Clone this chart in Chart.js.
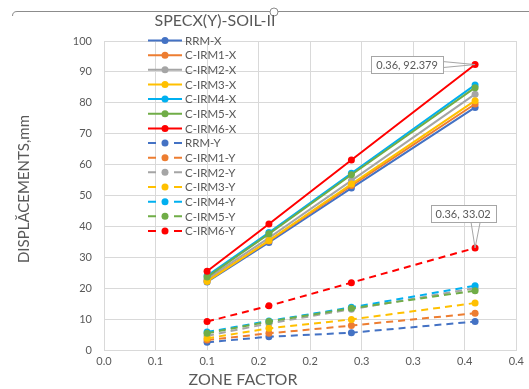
<!DOCTYPE html>
<html>
<head>
<meta charset="utf-8">
<script src="https://cdn.jsdelivr.net/npm/chart.js@4"></script>
<style>
  html, body { margin: 0; padding: 0; background: #fff; }
  #wrap { width: 529px; height: 389px; }
</style>
</head>
<body>
<div id="wrap"><canvas id="specChart" width="529" height="389"></canvas></div>
<script>
// zone factors (x) and displacements (mm) per model
const zoneFactors = [0.10, 0.16, 0.24, 0.36];

const rrmX   = [22.0, 34.8, 52.4, 78.5];
const irm1X  = [22.5, 35.3, 53.2, 79.6];
const irm2X  = [23.0, 36.3, 54.8, 82.8];
const irm3X  = [22.2, 35.4, 53.7, 80.7];
const irm4X  = [24.0, 38.0, 57.2, 85.8];
const irm5X  = [23.6, 37.6, 56.7, 84.9];
const irm6X  = [25.5, 40.8, 61.5, 92.379];

const rrmY   = [2.5, 4.3, 5.6, 9.2];
const irm1Y  = [3.2, 5.4, 7.9, 11.9];
const irm2Y  = [4.6, 8.6, 13.2, 20.0];
const irm3Y  = [3.8, 7.0, 9.9, 15.2];
const irm4Y  = [5.8, 9.4, 13.8, 20.8];
const irm5Y  = [5.4, 9.2, 13.5, 19.2];
const irm6Y  = [9.2, 14.3, 21.8, 33.02];

const xTickLabels = ["0.0", "0.1", "0.1", "0.2", "0.2", "0.3", "0.3", "0.4", "0.4"];

const FONT = "Lato, 'Liberation Sans', sans-serif";
const TXT = "#595959";

const seriesDefs = [
    ["RRM-X", rrmX, "#4472C4", false],
    ["C-IRM1-X", irm1X, "#ED7D31", false],
    ["C-IRM2-X", irm2X, "#A5A5A5", false],
    ["C-IRM3-X", irm3X, "#FFC000", false],
    ["C-IRM4-X", irm4X, "#00B0F0", false],
    ["C-IRM5-X", irm5X, "#70AD47", false],
    ["C-IRM6-X", irm6X, "#FF0000", false],
    ["RRM-Y", rrmY, "#4472C4", true],
    ["C-IRM1-Y", irm1Y, "#ED7D31", true],
    ["C-IRM2-Y", irm2Y, "#A5A5A5", true],
    ["C-IRM3-Y", irm3Y, "#FFC000", true],
    ["C-IRM4-Y", irm4Y, "#00B0F0", true],
    ["C-IRM5-Y", irm5Y, "#70AD47", true],
    ["C-IRM6-Y", irm6Y, "#FF0000", true],
];

const DASH = [7, 5];

const datasets = seriesDefs.map(([label, vals, color, dashed], i) => ({
    label,
    data: zoneFactors.map((x, j) => ({ x, y: vals[j] })),
    borderColor: color,
    backgroundColor: color,
    borderWidth: 2,
    borderDash: dashed ? DASH : [],
    pointRadius: 3.5,
    pointBorderWidth: 0,
    pointBackgroundColor: color,
    order: seriesDefs.length - i,
}));

// data-label callouts: [dataset index, point index, box dx, box dy]
const callouts = [
    [6, 3, -68, 0],
    [13, 3, -12, -34],
];

const decor = {
    id: "decor",
    beforeDraw(chart) {
        const ctx = chart.ctx;
        ctx.save();
        ctx.fillStyle = "#fff";
        ctx.fillRect(0, 0, chart.width, chart.height);
        // frame edge at the top
        ctx.strokeStyle = "#8c8c8c";
        ctx.lineWidth = 1;
        ctx.beginPath();
        ctx.moveTo(12.5, 16);
        ctx.quadraticCurveTo(12.5, 11.5, 17, 11.5);
        ctx.lineTo(529, 11.5);
        ctx.stroke();
        ctx.beginPath();
        ctx.arc(274, 12, 4, 0, Math.PI * 2);
        ctx.fillStyle = "#fff";
        ctx.fill();
        ctx.stroke();
        ctx.restore();
    },
    afterDatasetsDraw(chart) {
        const ctx = chart.ctx;
        ctx.save();

        // legend inside the plot
        const lx = 148, ly = 40.5, step = 14.65;
        ctx.font = "11.5px " + FONT;
        ctx.textBaseline = "middle";
        ctx.textAlign = "left";
        seriesDefs.forEach(([label, , color, dashed], i) => {
            const y = ly + i * step;
            ctx.strokeStyle = color;
            ctx.lineWidth = 2;
            ctx.beginPath();
            if (dashed) {
                ctx.moveTo(lx, y); ctx.lineTo(lx + 8, y);
                ctx.moveTo(lx + 26, y); ctx.lineTo(lx + 34, y);
            } else {
                ctx.moveTo(lx, y); ctx.lineTo(lx + 34, y);
            }
            ctx.stroke();
            ctx.fillStyle = color;
            ctx.beginPath();
            ctx.arc(lx + 17, y, 3.5, 0, Math.PI * 2);
            ctx.fill();
            ctx.fillStyle = TXT;
            ctx.fillText(label, lx + 37, y + 0.5);
        });

        // value callouts
        ctx.font = "11px " + FONT;
        ctx.textAlign = "center";
        callouts.forEach(([di, pi, dx, dy]) => {
            const pt = chart.getDatasetMeta(di).data[pi];
            const d = chart.data.datasets[di].data[pi];
            const text = d.x + ", " + d.y;
            const w = ctx.measureText(text).width + 10;
            const h = 17;
            const cx = pt.x + dx, cy = pt.y + dy;
            const bx = cx - w / 2, by = cy - h / 2;
            ctx.strokeStyle = "#a6a6a6";
            ctx.lineWidth = 1;
            ctx.fillStyle = "#fff";
            ctx.beginPath();
            if (dy === 0) {
                ctx.moveTo(bx + w, cy - 3);
                ctx.lineTo(pt.x, pt.y);
                ctx.lineTo(bx + w, cy + 3);
            } else {
                ctx.moveTo(cx + 8, by + h);
                ctx.lineTo(pt.x, pt.y);
                ctx.lineTo(cx + 17, by + h);
            }
            ctx.stroke();
            ctx.fillRect(bx, by, w, h);
            ctx.strokeRect(Math.round(bx) + 0.5, Math.round(by) + 0.5, Math.round(w), h);
            ctx.fillStyle = TXT;
            ctx.fillText(text, cx, cy + 0.5);
        });
        ctx.restore();
    },
    afterDraw(chart) {
        const ctx = chart.ctx;
        ctx.save();
        ctx.fillStyle = TXT;
        ctx.textAlign = "center";
        ctx.textBaseline = "middle";
        ctx.font = "16px " + FONT;
        ctx.fillText("SPECX(Y)-SOIL-II", 215, 21);
        ctx.font = "16px " + FONT;
        ctx.fillText("ZONE FACTOR", 243, 380);
        ctx.translate(24, 189);
        ctx.rotate(-Math.PI / 2);
        ctx.font = "15px " + FONT;
        ctx.fillText("DISPLĂCEMENTS,mm", 0, 0);
        ctx.restore();
    },
};

new Chart(document.getElementById("specChart"), {
    type: "line",
    data: { datasets },
    options: {
        responsive: false,
        animation: false,
        layout: { padding: { left: 0, right: 12, top: 41, bottom: 0 } },
        plugins: {
            legend: { display: false },
            tooltip: { enabled: false },
        },
        scales: {
            x: {
                type: "linear",
                min: 0,
                max: 0.4,
                afterFit: (s) => { s.height = 39; },
                ticks: {
                    stepSize: 0.05,
                    padding: 5,
                    color: TXT,
                    font: { family: FONT, size: 11 },
                    callback: (v, i) => xTickLabels[i],
                },
                grid: { color: "#d9d9d9", drawTicks: false },
                border: { color: "#d9d9d9" },
            },
            y: {
                min: 0,
                max: 100,
                afterFit: (s) => { s.width = 104; },
                ticks: {
                    stepSize: 10,
                    padding: 12,
                    color: TXT,
                    font: { family: FONT, size: 11 },
                },
                grid: { color: "#d9d9d9", drawTicks: false },
                border: { color: "#d9d9d9" },
            },
        },
    },
    plugins: [decor],
});
</script>
</body>
</html>
